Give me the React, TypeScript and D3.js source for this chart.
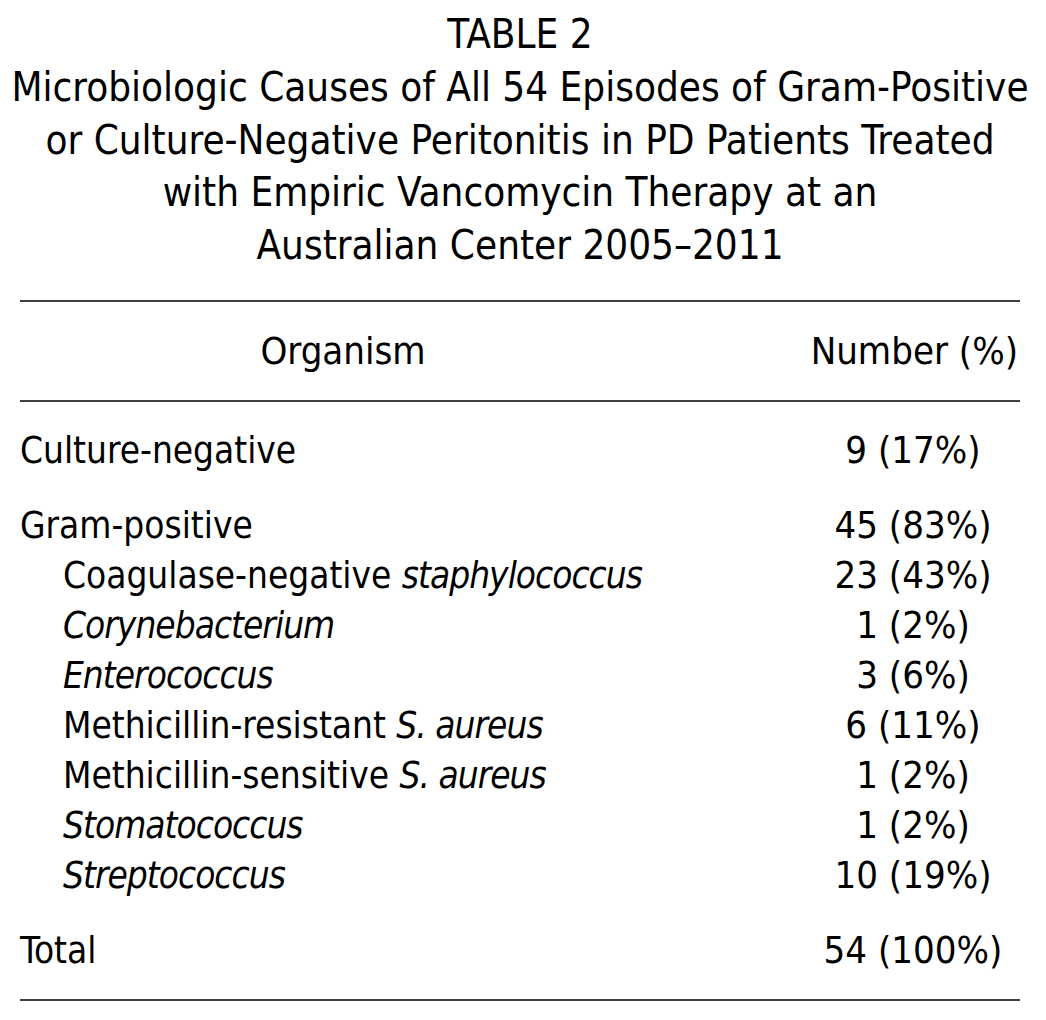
import * as d3 from "d3";
import { useEffect, useRef } from "react";

const titleLines = [
  "TABLE 2",
  "Microbiologic Causes of All 54 Episodes of Gram-Positive",
  "or Culture-Negative Peritonitis in PD Patients Treated",
  "with Empiric Vancomycin Therapy at an",
  "Australian Center 2005\u20132011",
];

const headers = ["Organism", "Number (%)"];

// plain part + italic part of each organism name
const organismPlain = [
  "Culture-negative",
  "Gram-positive",
  "Coagulase-negative ",
  "",
  "",
  "Methicillin-resistant ",
  "Methicillin-sensitive ",
  "",
  "",
  "Total",
];
const organismItalic = [
  "",
  "",
  "staphylococcus",
  "Corynebacterium",
  "Enterococcus",
  "S. aureus",
  "S. aureus",
  "Stomatococcus",
  "Streptococcus",
  "",
];
const indentLevel = [0, 0, 1, 1, 1, 1, 1, 1, 1, 0];
const gapBefore = [0, 0.5, 0, 0, 0, 0, 0, 0, 0, 0.5];
const counts = [9, 45, 23, 1, 3, 6, 1, 1, 10, 54];
const percents = [17, 83, 43, 2, 6, 11, 2, 2, 19, 100];

const W = 1046;
const H = 1020;
const FONT = "'DejaVu Sans Condensed', 'DejaVu Sans', sans-serif";

export default function App() {
  const ref = useRef<SVGSVGElement>(null);

  useEffect(() => {
    const svg = d3.select(ref.current);
    svg.selectAll("*").remove();

    svg.append("rect").attr("width", W).attr("height", H).attr("fill", "#fff");

    // title
    const titleY = d3.scaleLinear().domain([0, 4]).range([48, 259]);
    svg.selectAll(".title")
      .data(titleLines)
      .enter()
      .append("text")
      .attr("class", "title")
      .attr("x", 520)
      .attr("y", (d, i) => titleY(i))
      .attr("text-anchor", "middle")
      .style("font-family", FONT)
      .style("font-size", "40px")
      .text(d => d);

    // rules
    const rules = [301, 401, 1000];
    svg.selectAll(".rule")
      .data(rules)
      .enter()
      .append("line")
      .attr("x1", 20)
      .attr("x2", 1020)
      .attr("y1", d => d)
      .attr("y2", d => d)
      .attr("stroke", "#000")
      .attr("stroke-width", 1.3);

    // header
    svg.append("text")
      .attr("x", 343).attr("y", 364)
      .attr("text-anchor", "middle")
      .style("font-family", FONT).style("font-size", "38px")
      .text(headers[0]);
    svg.append("text")
      .attr("x", 1018).attr("y", 364)
      .attr("text-anchor", "end")
      .style("font-family", FONT).style("font-size", "38px")
      .text(headers[1]);

    // rows
    const slots: number[] = [];
    let acc = 0;
    gapBefore.forEach((g, i) => {
      acc += g + (i === 0 ? 0 : 1);
      slots.push(acc);
    });
    const y = d3.scaleLinear().domain([0, 10]).range([463, 963]);

    const rows = svg.selectAll(".row")
      .data(organismPlain.map((p, i) => ({ p, it: organismItalic[i], lvl: indentLevel[i], n: counts[i], pc: percents[i], s: slots[i] })))
      .enter()
      .append("g")
      .attr("class", "row")
      .attr("transform", d => `translate(0, ${y(d.s)})`);

    const label = rows.append("text")
      .attr("transform", d => `translate(${d.lvl ? 63 : 20}, 0) scale(0.965, 1)`)
      .style("font-family", FONT)
      .style("font-size", "38px");
    label.append("tspan").text(d => d.p);
    label.append("tspan")
      .style("font-style", "italic")
      .style("letter-spacing", "-1px")
      .text(d => d.it);

    rows.append("text")
      .attr("x", 913)
      .attr("text-anchor", "middle")
      .style("font-family", FONT)
      .style("font-size", "38px")
      .text(d => `${d.n} (${d.pc}%)`);
  }, []);

  return <svg ref={ref} width={W} height={H} style={{ display: "block", margin: "-8px" }} />;
}
